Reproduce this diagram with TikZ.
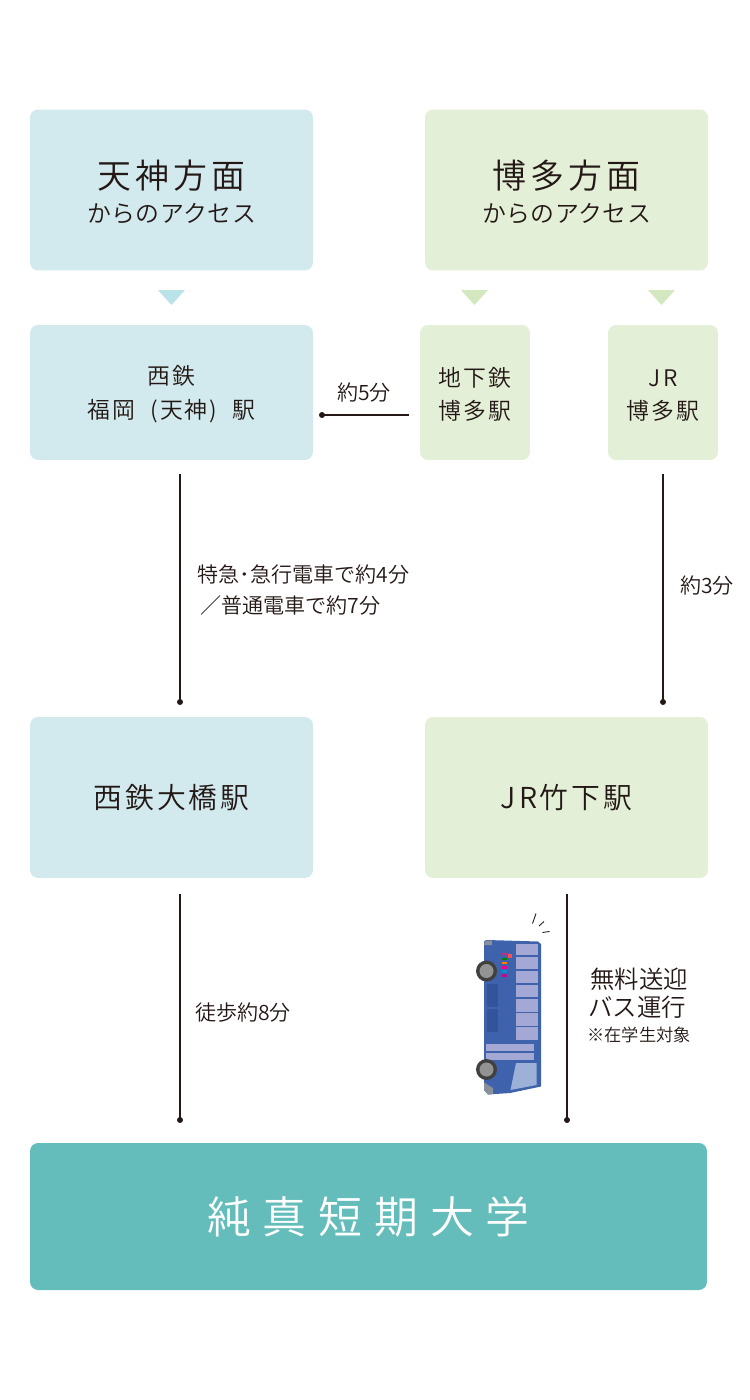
\documentclass[tikz,border=0pt]{standalone}
\usepackage{fontspec}
\setmainfont{Noto Sans CJK JP DemiLight}
\usetikzlibrary{calc}
\definecolor{boxblue}{HTML}{D2EAEE}
\definecolor{boxgreen}{HTML}{E3EFD6}
\definecolor{triblue}{HTML}{B9E2E9}
\definecolor{trigreen}{HTML}{D3E8BE}
\definecolor{boxteal}{HTML}{64BDBA}
\definecolor{inkline}{HTML}{231815}
\definecolor{busbody}{HTML}{3F62AC}
\definecolor{busdark}{HTML}{34549A}
\definecolor{buswin}{HTML}{A3A9D4}
\definecolor{busfront}{HTML}{9DB1D8}
\definecolor{busgray}{HTML}{8A9099}
\newcommand{\setsize}[3]{\fontsize{#1}{#2}\selectfont\addfontfeatures{LetterSpace=#3}}
\tikzset{
  areabox/.style={rectangle,rounded corners=.16cm,inner sep=0pt,text=inkline,align=center},
  wide/.style={areabox,minimum width=5.66cm,minimum height=3.22cm},
  midbox/.style={areabox,minimum width=5.66cm,minimum height=2.7cm},
  smallbox/.style={areabox,minimum width=2.2cm,minimum height=2.7cm},
  timelabel/.style={inner sep=0pt,text=inkline,align=center},
  routeline/.style={draw=inkline,line width=.6pt},
}
\begin{document}
\begin{tikzpicture}[x=.02cm,y=-.02cm]
\useasboundingbox (0,0) rectangle (750,1400);

\node[wide,fill=boxblue] (tenjinarea) at (171.5,190) {\rule{0pt}{18.5pt}\setsize{19.3}{22}{12}天神方面\\[6pt]\setsize{13.6}{20}{2}からのアクセス};
\node[wide,fill=boxgreen] (hakataarea) at (566.5,190) {\rule{0pt}{18.5pt}\setsize{19.3}{22}{12}博多方面\\[6pt]\setsize{13.6}{20}{2}からのアクセス};

\fill[triblue] (158,290)--(185,290)--(171.5,305)--cycle;
\fill[trigreen] (461,290)--(488,290)--(474.5,305)--cycle;
\fill[trigreen] (648,290)--(675,290)--(661.5,305)--cycle;

\node[midbox,fill=boxblue] (tenjinst) at (171.5,392.5) {\rule{0pt}{12.7pt}\setsize{13}{18.2}{9}西鉄\\[7pt]\setsize{13}{18.2}{9}福岡\hspace{4.5pt} (天神) \hspace{4.5pt}駅};
\node[smallbox,fill=boxgreen] (subwayst) at (475,392.5) {\rule{0pt}{12.7pt}\setsize{13}{18.2}{9}地下鉄\\[7pt]\setsize{13}{18.2}{9}博多駅};
\node[smallbox,fill=boxgreen] (jrhakata) at (663,392.5) {\rule{0pt}{12.7pt}\setsize{13}{18.2}{9}J\hspace{1.5pt}R\\[7pt]\setsize{13}{18.2}{9}博多駅};

\node[wide,fill=boxblue] (ohashist) at (171.5,797.5) {\setsize{16.4}{20}{10}西鉄大橋駅};
\node[wide,fill=boxgreen] (takeshita) at (566.5,797.5) {\setsize{16.4}{20}{10}JR竹下駅};
\node[areabox,fill=boxteal,text=white,minimum width=13.54cm,minimum height=2.94cm] (college) at (368.5,1216.5) {\setsize{25}{28}{27}純真短期大学};

\coordinate (walkA) at (322,415);
\coordinate (walkB) at (409,415);
\coordinate (railA) at (180,474);
\coordinate (railB) at (180,702);
\coordinate (jrA) at (663,474);
\coordinate (jrB) at (663,702);
\coordinate (footA) at (180,894);
\coordinate (footB) at (180,1120);
\coordinate (busA) at (567,894);
\coordinate (busB) at (567,1120);
\draw[routeline] (walkB)--(walkA);
\draw[routeline] (railA)--(railB);
\draw[routeline] (jrA)--(jrB);
\draw[routeline] (footA)--(footB);
\draw[routeline] (busA)--(busB);
\foreach \p in {walkA,railB,jrB,footB,busB}
  \fill[inkline] (\p) circle (3);

\node[timelabel] (walktime) at (364,393) {\setsize{12}{14}{0}約5分};
\node[timelabel,anchor=west] (railtimeA) at (197,574) {\setsize{12}{14}{0}特急･急行電車で約4分};
\node[timelabel,anchor=west] (railtimeB) at (200,605) {\setsize{12}{14}{0}／普通電車で約7分};
\node[timelabel] (jrtime) at (707,586) {\setsize{12}{14}{0}約3分};
\node[timelabel] (foottime) at (243,1013) {\setsize{12}{14}{0}徒歩約8分};
\node[timelabel] (freebusA) at (639,979) {\setsize{13.9}{16}{0}無料送迎};
\node[timelabel] (freebusB) at (637,1007) {\setsize{13.9}{16}{0}バス運行};
\node[timelabel] (freebusC) at (639,1035) {\setsize{9.8}{12}{0}※在学生対象};

% bus
\fill[busbody] (484,942) to[out=80,in=180] (487,940) -- (538,941.5) -- (541,944) -- (541,1086.5) -- (510,1093) -- (488,1094.5) -- (484,1090) -- cycle;
\fill[busgray] (484,944) -- (486,940.5) -- (492,940.5) -- (492,945) -- (484,945) -- cycle;
\fill[busgray] (484,1082.5) -- (493,1088) -- (493,1094) -- (488,1094.5) -- (484,1090) -- cycle;
\foreach \ya/\yb in {944/955,956.5/969,970.5/983,984.5/997,998.5/1011.5,1013/1025.5,1027/1040}
  \fill[buswin] (516,\ya) rectangle (538,\yb);
\fill[busdark] (487,984) rectangle (498,1006.5);
\fill[busdark] (487,1009) rectangle (498,1031.5);
\fill[buswin] (486,1044) rectangle (534,1051);
\fill[buswin] (486,1052.5) rectangle (534,1059.5);
\fill[busfront] (516,1063) -- (536.5,1063) -- (536.5,1085) -- (510.5,1090) -- cycle;
\foreach \cy in {971,1069.5}{
  \fill[black!75] (486.5,\cy) circle (10.5);
  \fill[gray!85] (486.5,\cy) circle (7);
}
\fill[magenta!80!black] (501.5,953) rectangle (508,955);
\fill[red!70] (508,953.5) rectangle (512,958);
\fill[green!50!black] (502,958) rectangle (507,960);
\fill[orange] (502,962) rectangle (507,964);
\fill[magenta] (502,966) rectangle (507,969);
\fill[cyan!70!blue] (502,970) rectangle (507,973);
\fill[magenta!70!blue] (502,974) rectangle (507,977);
\draw[inkline,line width=.5pt] (532.5,923.5)--(536,913.5);
\draw[inkline,line width=.5pt] (539,926)--(544,921.5);
\draw[inkline,line width=.5pt] (542.5,932.5)--(549.5,931.5);
\end{tikzpicture}
\end{document}
